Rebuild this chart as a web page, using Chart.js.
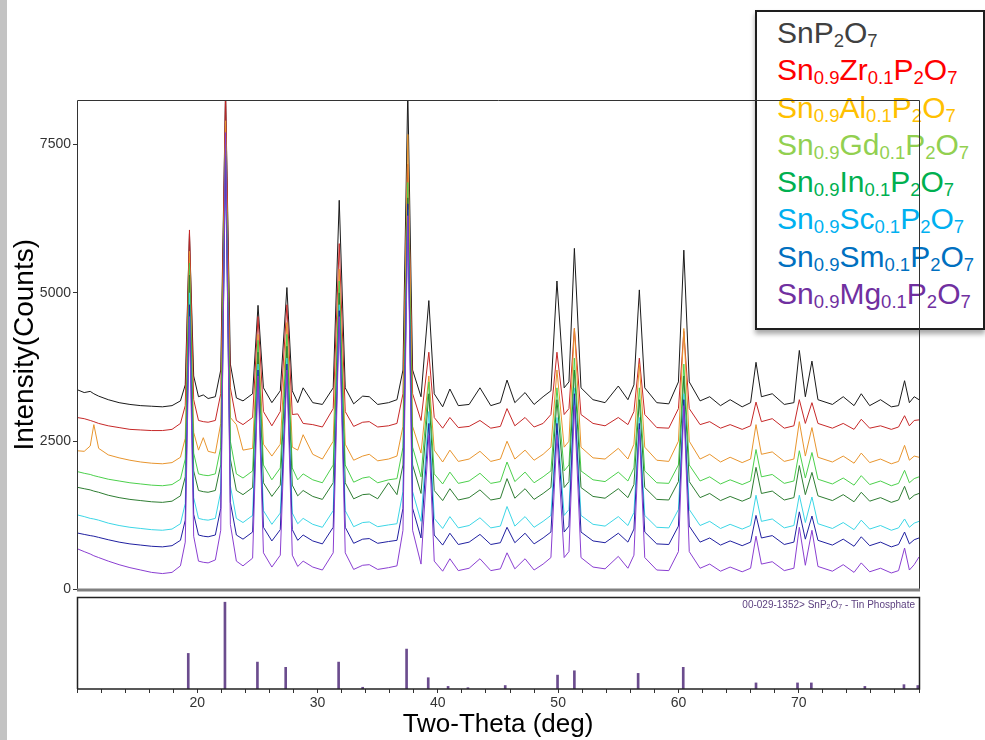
<!DOCTYPE html>
<html>
<head>
<meta charset="utf-8">
<script src="https://cdn.jsdelivr.net/npm/chart.js@4.4.0/dist/chart.umd.min.js"></script>
<style>
  body { margin: 0; width: 985px; height: 740px; overflow: hidden; background: #fff; position: relative; font-family: 'Liberation Sans', Arial, sans-serif; }
  #stripe { position: absolute; left: 0; top: 0; width: 7px; height: 740px; background: #c3c3c3; }
  #legend { position: absolute; left: 755px; top: 10px; width: 230px; height: 320px; box-sizing: border-box;
            border: 2px solid #1e1e1e; background: #fff; box-shadow: 0 4px 5px rgba(0,0,0,0.35);
            padding: 2px 0 0 20px; font-size: 30px; line-height: 37.3px; white-space: nowrap; }
  #legend sub { font-size: 18.5px; line-height: 0; vertical-align: -4px; }
  canvas { position: absolute; left: 0; }
  #main { top: 0; }
  #refc { top: 595px; }
  #reflabel { position: absolute; right: 70px; top: 599px; font-size: 10px; color: #5b3f7f; }
  #reflabel sub { font-size: 7px; vertical-align: -1px; line-height: 0; }
</style>
</head>
<body>
<div id="stripe"></div>
<div id="legend"></div>
<canvas id="main" width="985" height="600"></canvas>
<canvas id="refc" width="985" height="145"></canvas>
<div id="reflabel">00-029-1352&gt; SnP<sub>2</sub>O<sub>7</sub> - Tin Phosphate</div>
<script>
// 2-theta positions (deg) shared by all patterns
const twoTheta = [
  10.0, 10.6, 11.1, 11.4, 11.8, 12.6, 13.5, 14.4, 15.3, 16.2, 17.1, 17.9,
  18.6, 19.0, 19.35, 19.7, 20.1, 20.5, 20.9, 21.5, 21.95, 22.35, 22.75, 23.25,
  23.8, 24.6, 25.05, 25.5, 26.2, 26.9, 27.45, 27.9, 28.35, 28.8, 29.6, 30.4,
  31.3, 31.8, 32.3, 33.0, 33.75, 34.3, 35.0, 35.9, 36.6, 37.1, 37.5, 37.9,
  38.6, 39.25, 39.7, 40.4, 41.0, 41.7, 42.6, 43.5, 44.4, 45.2, 45.75, 46.4,
  47.25, 48.0, 48.75, 49.4, 49.9, 50.5, 50.9, 51.35, 51.9, 52.9, 53.9, 55.0,
  55.8, 56.3, 56.75, 57.2, 58.2, 59.2, 60.0, 60.45, 60.9, 61.8, 62.6, 63.5,
  64.3, 65.3, 66.0, 66.45, 66.9, 67.8, 68.8, 69.6, 70.05, 70.55, 71.1, 71.6,
  72.8, 73.7, 74.6, 75.2, 75.9, 76.8, 77.7, 78.3, 78.8, 79.2, 79.6, 80.0
];

const snP2O7 = [
  3370, 3320, 3340, 3300, 3260, 3200, 3150, 3120, 3100, 3090, 3080, 3100,
  3180, 3450, 6000, 3600, 3250, 3280, 3220, 3250, 3700, 8400, 3800, 3230,
  3180, 3300, 4790, 3400, 3150, 3350, 5090, 3350, 3150, 3400, 3150, 3120,
  3400, 6560, 3400, 3130, 3260, 3250, 3120, 3150, 3200, 3700, 8400, 3700,
  3250, 4870, 3300, 3080, 3380, 3100, 3120, 3400, 3100, 3150, 3530, 3150,
  3320, 3120, 3250, 3350, 5200, 3400, 3500, 5750, 3400, 3200, 3150, 3430,
  3200, 3450, 5050, 3400, 3150, 3130, 3500, 5720, 3500, 3180, 3250, 3100,
  3200, 3080, 3150, 3830, 3250, 3300, 3120, 3150, 4030, 3250, 3850, 3200,
  3120, 3250, 3100, 3300, 3100, 3200, 3080, 3100, 3520, 3150, 3250, 3200
];
const zr = [
  2900, 2880, 2850, 2830, 2800, 2760, 2730, 2700, 2690, 2680, 2680, 2700,
  2800, 3100, 6060, 3200, 2850, 2830, 2820, 2850, 3300, 8400, 3400, 2850,
  2780, 2900, 4600, 3000, 2760, 3000, 4800, 2950, 2960, 2800, 2780, 2740,
  3050, 5830, 3000, 2750, 2820, 2830, 2740, 2760, 2800, 3300, 7170, 3300,
  2850, 4000, 2900, 2720, 2900, 2730, 2750, 2850, 2720, 2750, 3050, 2760,
  2900, 2740, 2800, 2950, 4000, 2950, 3050, 4400, 2950, 2800, 2760, 2900,
  2780, 3000, 3900, 2950, 2730, 2720, 3050, 4350, 3050, 2780, 2830, 2720,
  2780, 2700, 2760, 3160, 2830, 2880, 2720, 2760, 3200, 2800, 3150, 2800,
  2720, 2800, 2700, 2870, 2720, 2760, 2700, 2740, 2930, 2760, 2850, 2860
];
const al = [
  2340, 2330, 2420, 2780, 2380, 2270, 2220, 2180, 2150, 2130, 2120, 2140,
  2230, 2550, 5700, 2650, 2350, 2560, 2330, 2300, 2800, 7900, 2900, 2780,
  2350, 2380, 4300, 2450, 2250, 2450, 4500, 2400, 2350, 2610, 2280, 2200,
  2500, 5400, 2450, 2180, 2250, 2280, 2170, 2200, 2250, 2750, 7670, 2750,
  2300, 3600, 2350, 2150, 2350, 2160, 2200, 2330, 2160, 2200, 2500, 2200,
  2350, 2180, 2280, 2400, 3700, 2400, 2500, 4400, 2400, 2220, 2200, 2380,
  2200, 2450, 3800, 2400, 2180, 2160, 2500, 4400, 2500, 2200, 2280, 2150,
  2230, 2140, 2200, 2780, 2280, 2320, 2160, 2200, 2830, 2250, 2730, 2230,
  2150, 2250, 2130, 2300, 2140, 2200, 2120, 2160, 2430, 2180, 2250, 2230
];
const gd = [
  1990, 1960, 1940, 1920, 1900, 1860, 1830, 1800, 1780, 1760, 1750, 1770,
  1860, 2200, 5500, 2300, 1950, 1930, 1920, 1950, 2400, 7600, 2500, 1950,
  1880, 2000, 4200, 2100, 1850, 2050, 4300, 2050, 1850, 1950, 1850, 1800,
  2100, 5200, 2100, 1810, 1880, 1900, 1800, 1850, 1870, 2400, 6860, 2400,
  1900, 3500, 1950, 1780, 1980, 1790, 1830, 1960, 1790, 1820, 2150, 1820,
  1980, 1800, 1900, 2000, 3400, 2000, 2100, 3900, 2000, 1850, 1820, 1980,
  1830, 2050, 3400, 2000, 1800, 1790, 2100, 3800, 2100, 1830, 1900, 1780,
  1850, 1770, 1830, 2360, 1900, 1940, 1790, 1830, 2340, 1880, 2310, 1860,
  1780, 1880, 1760, 1920, 1770, 1830, 1750, 1790, 2010, 1800, 1870, 1900
];
const inn = [
  1725, 1700, 1680, 1660, 1640, 1590, 1550, 1520, 1500, 1480, 1470, 1490,
  1580, 1900, 5300, 2000, 1670, 1650, 1640, 1670, 2100, 7400, 2200, 1670,
  1600, 1720, 4000, 1800, 1570, 1760, 4100, 1760, 1580, 1670, 1570, 1520,
  1800, 5000, 1800, 1530, 1600, 1610, 1530, 1800, 1600, 2100, 6600, 2100,
  1620, 3300, 1670, 1500, 1700, 1510, 1550, 1680, 1510, 1540, 1870, 1540,
  1700, 1520, 1620, 1720, 3200, 1720, 1820, 3700, 1720, 1570, 1540, 1700,
  1550, 1770, 3200, 1720, 1520, 1510, 1820, 3600, 1820, 1550, 1620, 1500,
  1570, 1490, 1550, 2060, 1620, 1660, 1510, 1550, 2090, 1600, 1975, 1580,
  1500, 1600, 1480, 1640, 1490, 1550, 1470, 1510, 1740, 1520, 1590, 1620
];
const sc = [
  1260, 1230, 1200, 1190, 1170, 1120, 1080, 1050, 1030, 1010, 1000, 1020,
  1110, 1450, 5000, 1550, 1200, 1180, 1170, 1200, 1650, 7200, 1750, 1200,
  1130, 1250, 3800, 1330, 1100, 1290, 3900, 1290, 1110, 1200, 1100, 1050,
  1330, 4800, 1330, 1060, 1130, 1140, 1060, 1090, 1110, 1650, 6400, 1650,
  1150, 3000, 1200, 1030, 1230, 1040, 1080, 1210, 1040, 1070, 1400, 1070,
  1230, 1050, 1150, 1250, 2900, 1250, 1350, 3400, 1250, 1100, 1070, 1230,
  1080, 1300, 2900, 1250, 1050, 1040, 1350, 3300, 1350, 1080, 1150, 1030,
  1100, 1020, 1080, 1590, 1150, 1190, 1040, 1080, 1590, 1130, 1560, 1110,
  1030, 1130, 1010, 1170, 1020, 1080, 1000, 1040, 1190, 1050, 1120, 1150
];
const sm = [
  955, 930, 910, 900, 880, 840, 800, 770, 750, 730, 720, 740,
  830, 1170, 4800, 1270, 920, 900, 890, 920, 1370, 7300, 1470, 920,
  850, 970, 3700, 1050, 820, 1010, 3800, 1010, 830, 920, 820, 770,
  1050, 4700, 1050, 780, 850, 860, 780, 810, 830, 1370, 6500, 1370,
  870, 2800, 920, 750, 950, 760, 800, 930, 760, 790, 1050, 790,
  950, 770, 870, 970, 2800, 970, 1070, 3300, 970, 820, 790, 950,
  800, 1020, 2800, 970, 770, 760, 1070, 3200, 1070, 800, 870, 750,
  820, 740, 800, 1250, 870, 910, 760, 800, 1310, 850, 1240, 830,
  750, 850, 730, 890, 740, 800, 720, 760, 970, 770, 840, 870
];
const mg = [
  690, 640, 600, 570, 540, 480, 420, 370, 330, 290, 270, 290,
  400, 800, 4600, 900, 480, 460, 450, 500, 1000, 7700, 1100, 480,
  400, 530, 3600, 620, 380, 580, 3700, 580, 390, 480, 380, 330,
  620, 4600, 620, 340, 410, 420, 340, 370, 400, 1000, 6300, 1000,
  430, 2600, 480, 310, 520, 320, 360, 520, 320, 350, 620, 350,
  520, 330, 430, 540, 2600, 540, 640, 3100, 540, 380, 350, 560,
  360, 580, 2700, 540, 330, 320, 640, 3100, 640, 360, 430, 310,
  380, 300, 360, 900, 430, 470, 320, 360, 1050, 410, 1000, 390,
  310, 420, 290, 450, 300, 360, 280, 320, 700, 330, 420, 550
];

// reference card 00-029-1352 (relative intensity %)
const refPos = [19.25, 22.3, 25.0, 27.35, 31.75, 33.75, 37.4, 39.2, 40.85, 42.5, 45.6,
                49.95, 51.35, 56.65, 60.4, 66.45, 69.9, 71.05, 75.5, 78.75, 79.9];
const refInt = [41, 100, 31, 25, 31, 2, 46, 13, 3, 1.5, 4,
                16, 21, 18, 25, 7, 7, 7, 3, 5, 4];

const dopants = [null, 'Zr', 'Al', 'Gd', 'In', 'Sc', 'Sm', 'Mg'];
const series = [snP2O7, zr, al, gd, inn, sc, sm, mg];
const lineColors = ['#1a1a1a', '#c62828', '#e8952e', '#4cd04c', '#2e7d32', '#3cd6e6', '#2020a0', '#8a3fd1'];
const legendColors = ['#404040', '#ff0000', '#ffc000', '#92d050', '#00b050', '#00b0f0', '#0070c0', '#7030a0'];
const yTicks = [0, 2500, 5000, 7500];
const xLabels = [20, 30, 40, 50, 60, 70];

Chart.defaults.font.family = "'Liberation Sans', Arial, sans-serif";
Chart.defaults.color = '#333';

// legend box
let legend = document.getElementById('legend');
dopants.forEach((d, i) => {
  let div = document.createElement('div');
  div.style.color = legendColors[i];
  div.innerHTML = d ? `Sn<sub>0.9</sub>${d}<sub>0.1</sub>P<sub>2</sub>O<sub>7</sub>` : 'SnP<sub>2</sub>O<sub>7</sub>';
  legend.appendChild(div);
});

const framePlugin = {
  id: 'frame',
  afterDatasetsDraw(chart, args, opts) {
    const {ctx, chartArea: a} = chart;
    const l = Math.round(a.left) + 0.5, r = Math.round(a.right) + 0.5;
    const t = Math.round(a.top) + 0.5, b = Math.round(a.bottom);
    ctx.save();
    ctx.strokeStyle = opts.color;
    ctx.lineWidth = opts.width;
    ctx.beginPath();
    ctx.moveTo(l, b);
    ctx.lineTo(l, t);
    ctx.lineTo(r, t);
    ctx.lineTo(r, b);
    if (opts.closed) ctx.lineTo(l, b);
    ctx.stroke();
    if (opts.baseColor) {
      ctx.strokeStyle = opts.baseColor;
      ctx.lineWidth = 3;
      ctx.beginPath();
      ctx.moveTo(a.left, b);
      ctx.lineTo(a.right + 1, b);
      ctx.stroke();
    }
    ctx.restore();
  }
};

new Chart(document.getElementById('main'), {
  type: 'line',
  data: {
    datasets: series.map((s, i) => ({
      data: twoTheta.map((x, j) => ({x: x, y: s[j]})),
      borderColor: lineColors[i],
      borderWidth: 1,
      pointRadius: 0,
      tension: 0,
      order: series.length - i
    }))
  },
  options: {
    responsive: false,
    animation: false,
    layout: {padding: {top: 100, right: 66, bottom: 7, left: 0}},
    plugins: {
      legend: {display: false},
      tooltip: {enabled: false},
      frame: {color: '#333', width: 1, baseColor: '#808080'}
    },
    scales: {
      x: {type: 'linear', min: 10, max: 80, display: false},
      y: {
        min: 0, max: 8250,
        afterFit: (s) => { s.width = 77; },
        afterBuildTicks: (s) => { s.ticks = yTicks.map(v => ({value: v})); },
        ticks: {font: {size: 14}, color: '#333', padding: 2, callback: (v) => String(v)},
        grid: {drawOnChartArea: false, drawTicks: true, tickLength: 4, color: '#333'},
        border: {display: false},
        title: {display: true, text: 'Intensity(Counts)', font: {size: 28}, color: '#000', padding: {top: 8, bottom: 0}}
      }
    }
  },
  plugins: [framePlugin]
});

new Chart(document.getElementById('refc'), {
  type: 'bar',
  data: {
    datasets: [{
      data: refPos.map((p, i) => ({x: p, y: refInt[i]})),
      backgroundColor: '#6b4c8e',
      barThickness: 2
    }]
  },
  options: {
    responsive: false,
    animation: false,
    layout: {padding: {top: 2, right: 66, bottom: 0, left: 77}},
    plugins: {
      legend: {display: false},
      tooltip: {enabled: false},
      frame: {color: '#222', width: 1.5, closed: true}
    },
    scales: {
      x: {
        type: 'linear', min: 10, max: 80, offset: false,
        afterFit: (s) => { s.height = 51; },
        ticks: {
          stepSize: 2, autoSkip: false, maxRotation: 0, font: {size: 14}, color: '#333', padding: 2,
          callback: (v) => xLabels.includes(v) ? String(v) : ''
        },
        grid: {offset: false, drawOnChartArea: false, drawTicks: true, tickLength: 4, color: '#333'},
        border: {display: false},
        title: {display: true, text: 'Two-Theta (deg)', font: {size: 26}, color: '#000', padding: {top: 0, bottom: 0}}
      },
      y: {min: 0, max: 106, display: false}
    }
  },
  plugins: [framePlugin]
});
</script>
</body>
</html>
